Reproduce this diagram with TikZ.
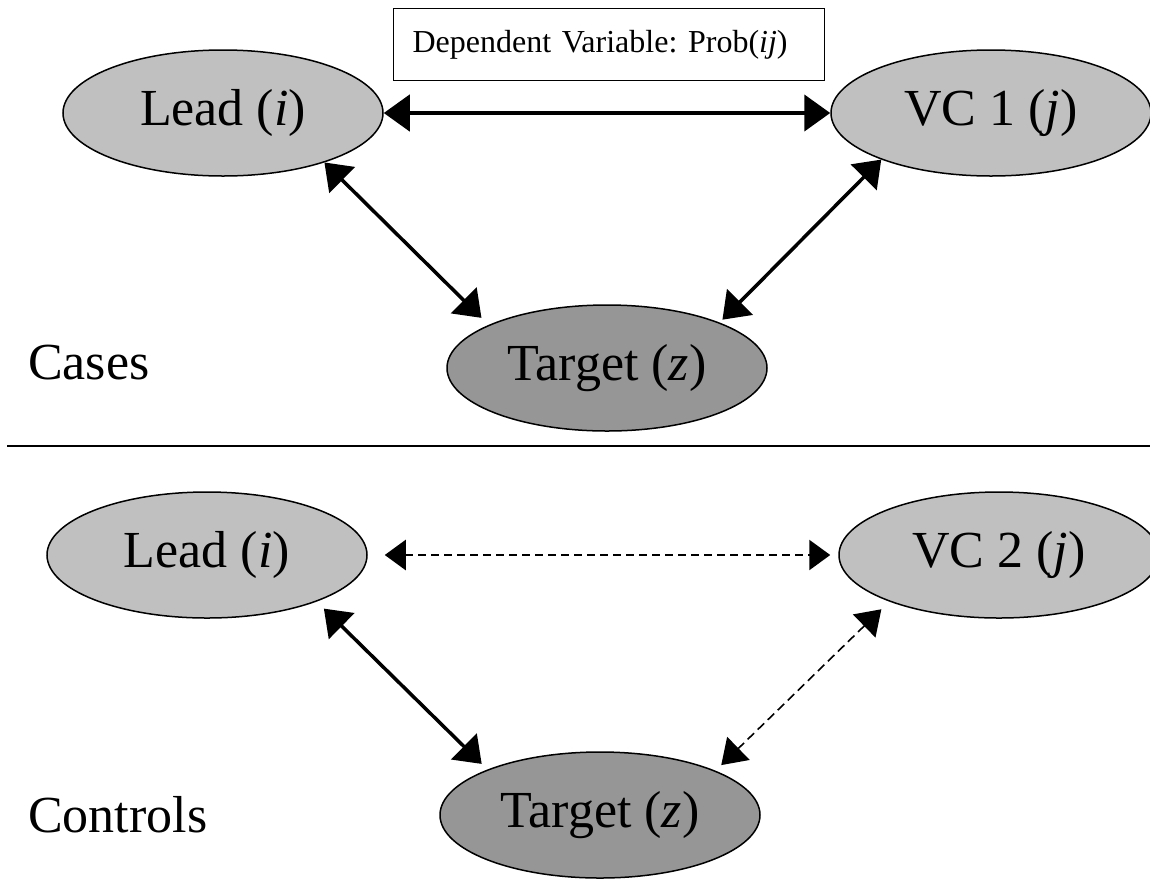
\documentclass[tikz,border=0pt]{standalone}
\usepackage{fontspec}
\setmainfont{Liberation Serif}
\usetikzlibrary{arrows.meta,shapes.geometric}
\definecolor{firmc}{HTML}{C0C0C0}
\definecolor{targc}{HTML}{969696}
\frenchspacing

\begin{document}
\begin{tikzpicture}[x=1pt,y=-1pt,
  firm/.style={ellipse,draw,line width=1.5pt,fill=firmc,inner sep=0pt,
    minimum width=320pt,minimum height=126pt,font=\fontsize{52}{60}\selectfont},
  tgt/.style={firm,fill=targc},
  side/.style={font=\fontsize{52}{60}\selectfont,inner sep=0pt},
  mainlink/.style={line width=4.5pt,{Triangle[length=26pt,width=36pt]}-{Triangle[length=26pt,width=36pt]}},
  link/.style={line width=3.5pt,{Triangle[length=25pt,width=36pt]}-{Triangle[length=25pt,width=36pt]}},
  dlink/.style={line width=2.5pt,dash pattern=on 8pt off 5pt,{Triangle[length=21pt,width=30pt]}-{Triangle[length=21pt,width=30pt]}},
  dlinkthin/.style={line width=1.6pt,dash pattern=on 9pt off 5pt,{Triangle[length=24pt,width=32pt]}-{Triangle[length=24pt,width=32pt]}}]
  \useasboundingbox (0,0) rectangle (1150,879);

  % cases
  \node[draw,line width=1.2pt,fill=white,anchor=north west,inner xsep=19pt,inner ysep=0pt,
    text width=393pt,align=left,minimum height=72pt,font=\fontsize{32}{38}\selectfont]
    (dv) at (393,8) {Dependent Variable: Prob(\textit{ij})};
  \node[firm] (leadA) at (223,113) {Lead (\textit{i})};
  \node[firm] (vcA) at (991,113) {VC 1 (\textit{j})};
  \node[tgt] (tgtA) at (607,368) {Target (\textit{z})};
  \node[side,anchor=base west] (cases) at (28,379) {Cases};

  \draw[mainlink] (leadA) -- (vcA);
  \draw[link,shorten >=10pt] (leadA.-26.3) -- (tgtA.160.8);
  \draw[link,shorten >=4pt] (vcA.-157.1) -- (tgtA.22.7);

  \draw[line width=1.5pt] (7,446) -- (1150,446);

  % controls
  \node[firm] (leadB) at (207,555) {Lead (\textit{i})};
  \node[firm] (vcB) at (999,555) {VC 2 (\textit{j})};
  \node[tgt] (tgtB) at (600,815) {Target (\textit{z})};
  \node[side,anchor=base west] (controls) at (28,832) {Controls};

  \draw[dlink,shorten <=17pt,shorten >=8pt] (leadB.east) -- (vcB.west);
  \draw[link,shorten <=10pt,shorten >=8pt] (leadB.-23.5) -- (tgtB.158.8);
  \draw[dlinkthin,shorten <=11pt,shorten >=8pt] (vcB.-157.9) -- (tgtB.21.2);
\end{tikzpicture}
\end{document}
